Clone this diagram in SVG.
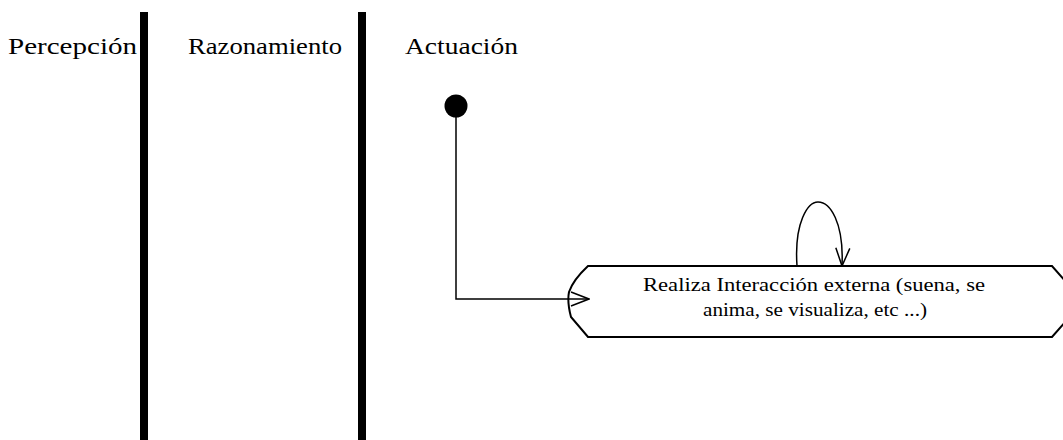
<svg xmlns="http://www.w3.org/2000/svg" width="1063" height="440" viewBox="0 0 1063 440">
<style>
.lane{font-family:"Liberation Serif","Times New Roman",serif;font-size:23px;fill:#000}
.lbl{font-family:"Liberation Serif","Times New Roman",serif;font-size:18px;fill:#000}
.bar{fill:#000}
.conn{fill:none;stroke:#000;stroke-width:1.5}
.node{fill:#fff;stroke:#000;stroke-width:2}
</style>
<defs>
<marker id="open" viewBox="0 0 20 16" refX="19" refY="8" markerWidth="20" markerHeight="16" markerUnits="userSpaceOnUse" orient="auto">
<path d="M1,1 L19,8 L1,15" fill="none" stroke="#000" stroke-width="1.5"/>
</marker>
</defs>
<rect width="1063" height="440" fill="#fff"/>
<g id="lanes">
<text class="lane" x="8" y="54" textLength="129" lengthAdjust="spacingAndGlyphs">Percepción</text>
<rect class="bar" x="140" y="12" width="8" height="428"/>
<text class="lane" x="188" y="54" textLength="154" lengthAdjust="spacingAndGlyphs">Razonamiento</text>
<rect class="bar" x="358" y="12" width="8" height="428"/>
<text class="lane" x="405" y="54" textLength="113" lengthAdjust="spacingAndGlyphs">Actuación</text>
</g>
<g id="start">
<circle cx="456" cy="106" r="11.5" fill="#000"/>
</g>
<g id="action">
<path class="node" d="M588,266 L1052,266 L1073,290 L1073,313 L1052,337 L588,337 L571,317 Q567,302 569,292 Q573,280 588,266 Z"/>
<text class="lbl" x="643" y="291" textLength="342" lengthAdjust="spacingAndGlyphs">Realiza Interacción externa (suena, se</text>
<text class="lbl" x="703" y="316" textLength="224" lengthAdjust="spacingAndGlyphs">anima, se visualiza, etc ...)</text>
</g>
<g id="connectors">
<path class="conn" d="M456,117 L456,299 L589,299" marker-end="url(#open)"/>
<path class="conn" d="M797,266 C794,222 808,202 818,202 C830,202 844,222 842,266" marker-end="url(#open)"/>
</g>
</svg>
